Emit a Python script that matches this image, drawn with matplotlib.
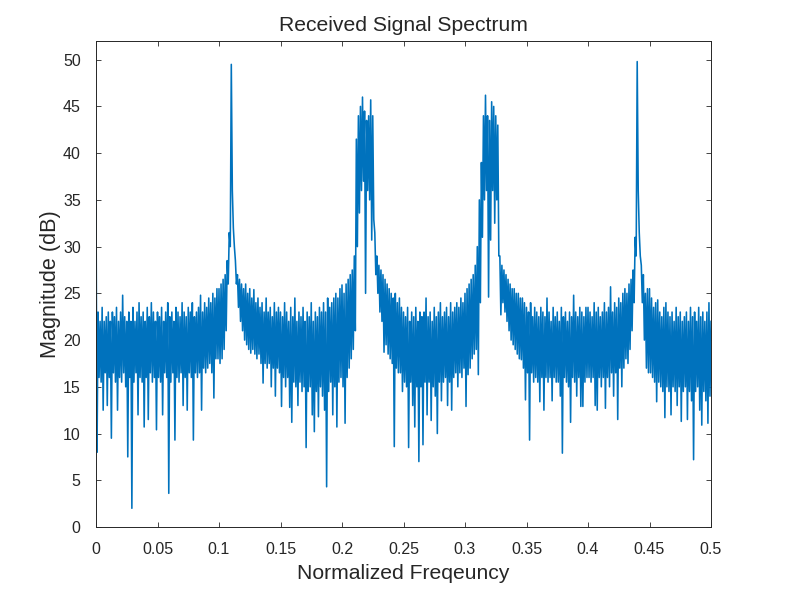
import numpy as np
import matplotlib.pyplot as plt

# spectrum: for every bin (1/600 wide) the top and
# bottom of the trace, split in segments of 0.05
hi_00 = [35, 23, 22, 23.5, 22, 22.5, 23, 22, 23, 22.5, 23.5, 22, 23, 24.8, 22.5,
         22, 23, 22, 23.5, 22, 23, 24, 22.5, 23, 22, 23.5, 22.5, 24, 23, 22]
lo_00 = [8, 16, 15.5, 12.5, 16.5, 13, 16, 9.5, 16.5, 15.5, 12.5, 16, 15.5, 16.5, 15,
         7.5, 16, 2.0, 15.5, 16.5, 12, 16, 15.5, 10.7, 16, 11.5, 16.5, 15.5, 16, 10.4]

hi_05 = [23, 22.5, 23.5, 22, 23, 24, 22.5, 23, 22, 23.5, 23, 22.5, 24, 23, 22.5,
         23.5, 23, 24, 22.5, 23, 23.5, 24.8, 23, 24, 23.5, 24.5, 24, 25, 24.5, 25.5]
lo_05 = [16, 15.5, 12, 16.5, 16, 3.6, 15.5, 16.5, 9.3, 16, 15.5, 16.5, 13, 16, 12.5,
         16.5, 16, 9.3, 16.5, 16, 16.5, 12.5, 17, 16.5, 17, 17.5, 16.5, 13.8, 18, 18]

hi_10 = [25.5, 26, 26.5, 27, 28.5, 31.5, 49.5, 32, 28.5, 27, 26.5, 26, 25.5, 26, 25,
         25.5, 24.5, 25.4, 24, 24.5, 23.5, 24, 23, 24.5, 23, 23.5, 22.5, 24, 23, 23.5]
lo_10 = [17.5, 18, 19, 21, 26, 30, 36, 30, 26, 23.5, 22, 21, 20, 19.5, 19,
         18.6, 19, 18.5, 18, 18.5, 17.5, 15.4, 17.5, 17, 17.5, 15, 17, 14, 17, 16.5]

hi_15 = [23, 22.5, 24, 23, 22, 23.5, 22.5, 24.5, 22, 23, 22.5, 23.5, 22, 23, 22.5,
         24, 22, 23, 22.5, 23.5, 23, 24, 23, 24.5, 23.5, 24, 24.5, 25, 24.5, 25.5]
lo_15 = [12.9, 16, 15, 16, 12.8, 11.2, 15.5, 15, 13, 15.5, 14.5, 15, 8.5, 14.5, 15,
         12, 10.2, 14.5, 11.8, 15, 14, 12.5, 4.3, 14.5, 15.5, 12, 15, 10.7, 15.5, 16]

hi_20 = [25.9, 25, 26, 26.5, 27, 27.5, 29, 41.5, 44, 45, 46, 44.5, 43.5, 44, 45.7,
         44, 31.5, 29, 28, 27.5, 27, 26.5, 26, 25.5, 25, 24.5, 25, 24, 24.5, 23.5]
lo_20 = [15, 11.1, 16, 17, 18, 19, 21, 30, 33.6, 36, 37, 25, 36, 35, 30.7,
         32.9, 27, 25, 23, 22, 18.7, 19.5, 18.5, 18, 17.5, 8.6, 17, 16.5, 16.5, 14.5]

hi_25 = [23, 22.5, 23.5, 22, 23, 22.5, 23.5, 22, 23, 22.5, 23, 24.5, 22.5, 23, 22,
         23.5, 22.5, 23, 24, 22.5, 23, 23.5, 22.5, 24, 23, 23.5, 24, 23.5, 24.5, 24]
lo_25 = [15.5, 15, 8.5, 15.5, 13, 10.7, 15, 7.0, 15, 8.8, 15.5, 12, 15.5, 11.4, 15,
         14, 10.0, 15.5, 13.5, 15.5, 16, 13, 15.5, 12.5, 16, 16.5, 15, 16.5, 16, 17]

hi_30 = [25, 25.5, 26, 26.5, 27, 28, 30, 35, 39, 44, 46.2, 44, 43.5, 45.5, 45,
         44, 43, 29, 28, 27.5, 27, 26.5, 26, 25.5, 25.5, 25, 25, 24.5, 24.5, 24]
lo_30 = [12.9, 16.3, 17, 18, 18.5, 19, 16.3, 24, 31, 35, 36, 24.6, 30.7, 36, 32.5,
         35, 29, 22.7, 24, 23, 22, 21, 20, 19.5, 19, 18.5, 18, 17.9, 17, 13.6]

hi_35 = [23.5, 23, 24, 22.5, 23.5, 23, 22.5, 23.5, 23, 22.5, 24.5, 23, 22, 23.5, 22.5,
         23, 22, 23.5, 22.5, 23, 22, 23, 22.5, 24.8, 23, 22.5, 23.5, 23, 22.5, 23.5]
lo_35 = [16.5, 9.3, 16.5, 15.5, 16, 15.5, 13.4, 16, 12.5, 16, 15.5, 16, 13.5, 16, 15.5,
         15.5, 14, 7.9, 16, 15.5, 15, 11.2, 16, 15.5, 14, 16, 12.9, 12.9, 15.5, 16]

hi_40 = [23.5, 23, 22.5, 24, 23, 23.5, 22.5, 23, 24, 23, 23.5, 25.7, 23, 24, 23.5,
         24.5, 24, 25, 25.5, 25, 26, 26.5, 27.5, 31, 49.8, 31.5, 28, 27, 25, 25.5]
lo_40 = [16, 15.5, 16, 13, 12.5, 16, 15, 16, 12.7, 16, 15, 16.5, 14, 16.5, 11.5,
         17, 15, 17, 18, 17.5, 19, 21, 24, 29, 36, 29, 24, 20, 17, 16.5]

hi_45 = [25.5, 24.5, 23.5, 24, 24.3, 23, 22.5, 23.5, 24, 23, 22.5, 23, 22, 23.5, 22.5,
         23, 22, 22.5, 23, 22, 23.5, 22.5, 23, 22, 23.5, 22.5, 23, 22, 23, 24, 22]
lo_45 = [16.5, 16, 15.5, 13.4, 15.5, 15, 14.5, 11.7, 15, 14.5, 12, 15, 14.5, 13, 15,
         11.3, 14.5, 15, 11.5, 14.5, 13.5, 7.2, 14.5, 15, 12.5, 10.9, 14.5, 13.5, 11.1, 14, 15]

xticks = [0, 0.05, 0.1, 0.15, 0.2, 0.25, 0.3, 0.35, 0.4, 0.45, 0.5]
xticklabels = ['0', '0.05', '0.1', '0.15', '0.2', '0.25', '0.3', '0.35', '0.4', '0.45', '0.5']
yticks = [0, 5, 10, 15, 20, 25, 30, 35, 40, 45, 50]

upper = np.array(hi_00 + hi_05 + hi_10 + hi_15 + hi_20 + hi_25 + hi_30 + hi_35 + hi_40 + hi_45)
lower = np.array(lo_00 + lo_05 + lo_10 + lo_15 + lo_20 + lo_25 + lo_30 + lo_35 + lo_40 + lo_45)
n = len(upper)
f_bin = np.arange(n) / 600.0

# interleave top and bottom so the thin line fills the noise band like the original
freq = np.column_stack([f_bin, f_bin + 1 / 1200.0]).ravel()[:-1]
mag = np.column_stack([upper, lower]).ravel()[:-1]

plt.rcParams['font.family'] = ['Liberation Sans', 'DejaVu Sans']
axcol = '#262626'

fig = plt.figure(figsize=(7.9, 5.97), dpi=100)
ax = fig.add_axes([96 / 790, 70 / 597, 615 / 790, 486 / 597])
ax.plot(freq, mag, color='#0072BD', linewidth=1.15)

ax.set_xlim(0, 0.5)
ax.set_ylim(0, 52)
ax.set_xticks(xticks)
ax.set_xticklabels(xticklabels)
ax.set_yticks(yticks)
ax.tick_params(direction='in', length=3.6, width=0.6, colors=axcol, labelsize=11.5,
               top=True, right=True)
ax.tick_params(axis='x', pad=10.5)
ax.tick_params(axis='y', pad=11)
for s in ax.spines.values():
    s.set_color(axcol)
    s.set_linewidth(0.7)

ax.set_title('Received Signal Spectrum', fontsize=15.2, color=axcol, pad=7.5)
ax.set_xlabel('Normalized Freqeuncy', fontsize=15.2, color=axcol, labelpad=5)
ax.set_ylabel('Magnitude (dB)', fontsize=15.6, color=axcol, labelpad=1)

fig.savefig('out.png', dpi=100)
